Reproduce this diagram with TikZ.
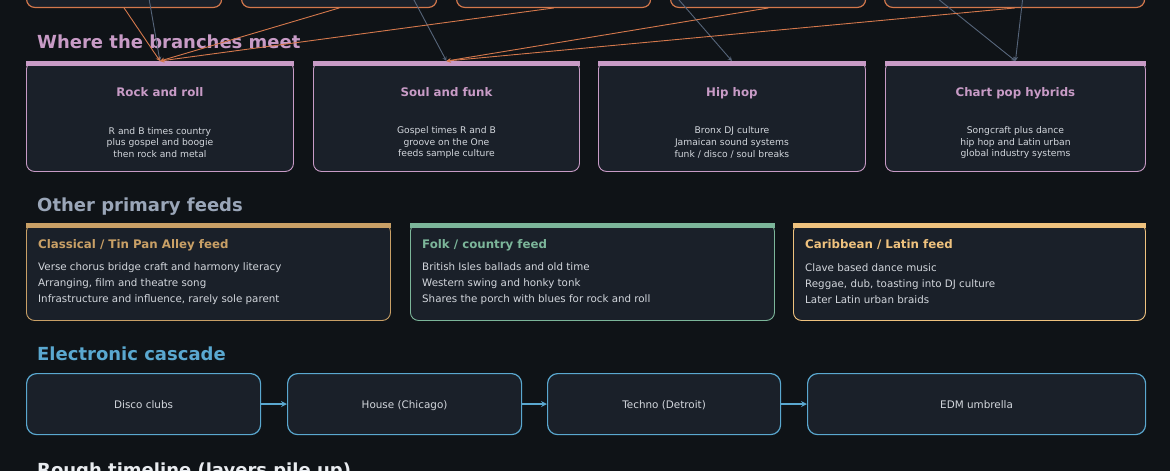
\documentclass[tikz,border=0pt]{standalone}
\usepackage{fontspec}
\setmainfont{DejaVu Sans}
\definecolor{bgdark}{HTML}{0F1317}
\definecolor{boxfill}{HTML}{1A2029}
\definecolor{rootorange}{HTML}{D4784C}
\definecolor{meetpink}{HTML}{C89BC6}
\definecolor{slategray}{HTML}{9AA6B8}
\definecolor{linkgray}{HTML}{56657A}
\definecolor{classtan}{HTML}{C9A066}
\definecolor{folkgreen}{HTML}{7CB69A}
\definecolor{latinpeach}{HTML}{EFC27E}
\definecolor{cascblue}{HTML}{5AA8D0}
\definecolor{bodytext}{HTML}{D3D7DD}
\definecolor{titlewhite}{HTML}{E8EBEF}

\begin{document}
\begin{tikzpicture}[x=1pt, y=-1pt, line join=round, line cap=round, >=stealth,
    heading/.style={anchor=base west, inner sep=0pt, font=\fontsize{18}{22}\selectfont\bfseries},
    rootbox/.style={draw=rootorange, fill=boxfill, line width=1.2pt, rounded corners=8pt, anchor=south west, minimum height=60pt, inner sep=0pt},
    meetbox/.style={draw=meetpink, fill=boxfill, line width=0.9pt, rounded corners=8pt, anchor=north west, minimum height=110pt, inner sep=0pt},
    meettitle/.style={anchor=base, inner sep=0pt, text=meetpink, font=\fontsize{11.8}{14}\selectfont\bfseries},
    meetdesc/.style={align=center, inner sep=0pt, text=bodytext, font=\fontsize{9.2}{11.6}\selectfont},
    feedbox/.style={fill=boxfill, line width=0.9pt, rounded corners=8pt, anchor=north west, minimum height=97pt, inner sep=0pt},
    feedtitle/.style={anchor=base west, inner sep=0pt, font=\fontsize{11.8}{14}\selectfont\bfseries},
    feedlines/.style={anchor=west, align=left, inner sep=0pt, text=bodytext, font=\fontsize{10.3}{15.6}\selectfont},
    cascbox/.style={draw=cascblue, fill=boxfill, line width=1.2pt, rounded corners=10pt, anchor=north west, minimum height=61pt, inner sep=0pt, text height=10pt, text depth=1pt, text=bodytext, font=\fontsize{10.4}{12}\selectfont}]
  \def\W{1170}
  \def\H{471}
  \fill[bgdark] (0,0) rectangle (\W,\H);
  \useasboundingbox (0,0) rectangle (\W,\H);
  \clip (0,0) rectangle (\W,\H);

  % root row, only the lower edges show
  \node[rootbox, minimum width=195pt] (root1) at (26,8) {};
  \node[rootbox, minimum width=195pt] (root2) at (241,8) {};
  \node[rootbox, minimum width=194pt] (root3) at (456,8) {};
  \node[rootbox, minimum width=195pt] (root4) at (670,8) {};
  \node[rootbox, minimum width=260pt] (root5) at (884,8) {};

  % where the branches meet
  \node[heading, text=meetpink] (meethead) at (37,48.5) {Where the branches meet};
  \node[meetbox, minimum width=267pt] (rock) at (26,61) {};
  \node[meetbox, minimum width=266pt] (soul) at (313,61) {};
  \node[meetbox, minimum width=267pt] (hiphop) at (598,61) {};
  \node[meetbox, minimum width=260pt] (chartpop) at (885,61) {};
  \foreach \b in {rock,soul,hiphop,chartpop}
    \fill[meetpink] (\b.north west) rectangle ([yshift=-5pt]\b.north east);
  \node[meettitle] (rocktitle) at ([yshift=-35pt]rock.north) {Rock and roll};
  \node[meettitle] (soultitle) at ([yshift=-35pt]soul.north) {Soul and funk};
  \node[meettitle] (hiphoptitle) at ([yshift=-35pt]hiphop.north) {Hip hop};
  \node[meettitle] (charttitle) at ([yshift=-35pt]chartpop.north) {Chart pop hybrids};
  \node[meetdesc] (rockdesc) at ([yshift=-81.5pt]rock.north) {R and B times country\\plus gospel and boogie\\then rock and metal};
  \node[meetdesc] (souldesc) at ([yshift=-81.5pt]soul.north) {Gospel times R and B\\groove on the One\\feeds sample culture};
  \node[meetdesc] (hiphopdesc) at ([yshift=-81.5pt]hiphop.north) {Bronx DJ culture\\Jamaican sound systems\\funk / disco / soul breaks};
  \node[meetdesc] (chartdesc) at ([yshift=-81.5pt]chartpop.north) {Songcraft plus dance\\hip hop and Latin urban\\global industry systems};

  % links coming down from the rows above
  \coordinate (up1) at (144,-30);
  \coordinate (up2) at (398,-30);
  \coordinate (up3) at (653,-30);
  \coordinate (up4) at (902,-30);
  \coordinate (up5) at (1026,-30);
  \draw[->, linkgray, line width=0.9pt] (up1) -- (rock.north);
  \draw[->, linkgray, line width=0.9pt] (up2) -- (soul.north);
  \draw[->, linkgray, line width=0.9pt] (up3) -- (hiphop.north);
  \draw[->, linkgray, line width=0.9pt] (up4) -- (chartpop.north);
  \draw[->, linkgray, line width=0.9pt] (up5) -- (chartpop.north);
  \draw[->, rootorange, line width=0.9pt] (root1.south) -- (rock.north);
  \draw[->, rootorange, line width=0.9pt] (root2.south) -- (rock.north);
  \draw[->, rootorange, line width=0.9pt] (root3.south) -- (rock.north);
  \draw[->, rootorange, line width=0.9pt] (root4.south) -- (soul.north);
  \draw[->, rootorange, line width=0.9pt] (root5.south) -- (soul.north);

  % other primary feeds
  \node[heading, text=slategray] (feedhead) at (37,211) {Other primary feeds};
  \node[feedbox, draw=classtan, minimum width=364pt] (classical) at (26,223) {};
  \node[feedbox, draw=folkgreen, minimum width=364pt] (folk) at (410,223) {};
  \node[feedbox, draw=latinpeach, minimum width=352pt] (latin) at (793,223) {};
  \fill[classtan] (classical.north west) rectangle ([yshift=-5pt]classical.north east);
  \fill[folkgreen] (folk.north west) rectangle ([yshift=-5pt]folk.north east);
  \fill[latinpeach] (latin.north west) rectangle ([yshift=-5pt]latin.north east);
  \node[feedtitle, text=classtan] (classicaltitle) at ([shift={(12pt,-25.3pt)}]classical.north west) {Classical / Tin Pan Alley feed};
  \node[feedtitle, text=folkgreen] (folktitle) at ([shift={(12pt,-25.3pt)}]folk.north west) {Folk / country feed};
  \node[feedtitle, text=latinpeach] (latintitle) at ([shift={(12pt,-25.3pt)}]latin.north west) {Caribbean / Latin feed};
  \node[feedlines] (classicallines) at ([shift={(12pt,-60.6pt)}]classical.north west) {Verse chorus bridge craft and harmony literacy\\Arranging, film and theatre song\\Infrastructure and influence, rarely sole parent};
  \node[feedlines] (folklines) at ([shift={(12pt,-60.6pt)}]folk.north west) {British Isles ballads and old time\\Western swing and honky tonk\\Shares the porch with blues for rock and roll};
  \node[feedlines] (latinlines) at ([shift={(12pt,-60.6pt)}]latin.north west) {Clave based dance music\\Reggae, dub, toasting into DJ culture\\Later Latin urban braids};

  % electronic cascade
  \node[heading, text=cascblue] (caschead) at (37,360) {Electronic cascade};
  \node[cascbox, minimum width=234pt] (disco) at (26,373) {Disco clubs};
  \node[cascbox, minimum width=234pt] (house) at (287,373) {House (Chicago)};
  \node[cascbox, minimum width=233pt] (techno) at (547,373) {Techno (Detroit)};
  \node[cascbox, minimum width=338pt] (edm) at (807,373) {EDM umbrella};
  \draw[->, cascblue, line width=1.6pt] (disco) -- (house);
  \draw[->, cascblue, line width=1.6pt] (house) -- (techno);
  \draw[->, cascblue, line width=1.6pt] (techno) -- (edm);

  % timeline heading, cut by the lower edge
  \node[heading, text=titlewhite] (timehead) at (37,476) {Rough timeline (layers pile up)};
\end{tikzpicture}
\end{document}
